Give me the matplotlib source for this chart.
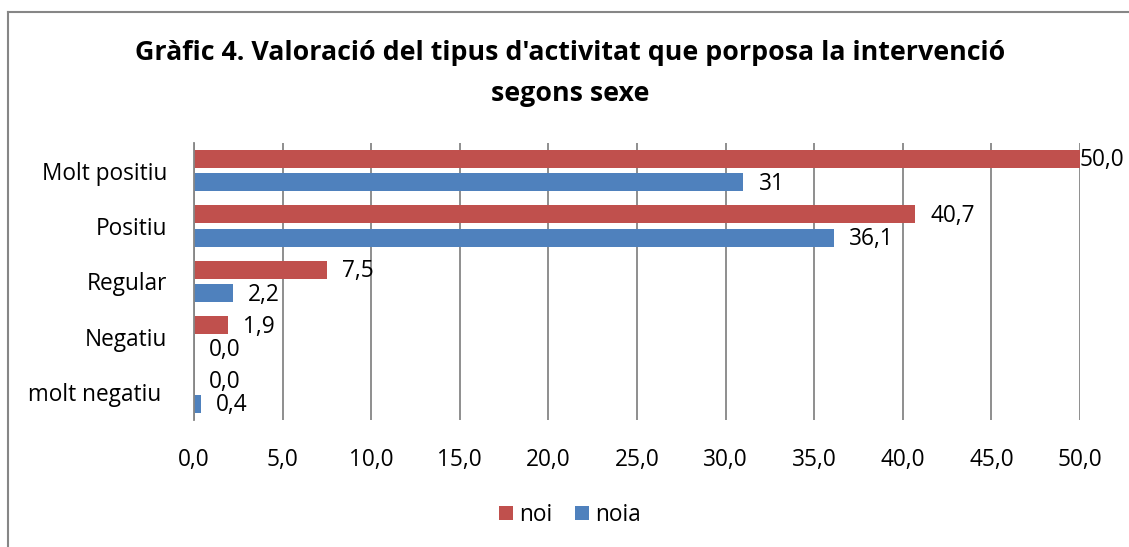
import matplotlib
matplotlib.use("Agg")
import matplotlib.pyplot as plt
import numpy as np
from matplotlib.lines import Line2D

plt.rcParams["font.family"] = ["Open Sans", "DejaVu Sans"]

categories = ["Molt positiu", "Positiu", "Regular", "Negatiu", "molt negatiu "]
noi = [50.0, 40.7, 7.5, 1.9, 0.0]
noia = [31.0, 36.1, 2.2, 0.0, 0.4]
noi_labels = ["50,0", "40,7", "7,5", "1,9", "0,0"]
noia_labels = ["31", "36,1", "2,2", "0,0", "0,4"]
xticks = [0, 5, 10, 15, 20, 25, 30, 35, 40, 45, 50]

RED = "#C0504D"
BLUE = "#4F81BD"
GRID = "#868686"
FS = 16.3

fig = plt.figure(figsize=(11.29, 5.47), dpi=100)
ax = fig.add_axes([0.1718, 0.2322, 0.7848, 0.5064])

y = np.arange(len(categories))
h = 0.325
d = 0.21  # half distance between the two bars of a category
bars_noi = ax.barh(y - d, noi, height=h, color=RED, label="noi")
bars_noia = ax.barh(y + d, noia, height=h, color=BLUE, label="noia")

ax.set_xlim(0, 50)
ax.set_ylim(len(categories) - 0.5, -0.5)
ax.set_xticks(xticks)
ax.set_xticklabels([f"{v:.1f}".replace(".", ",") for v in xticks])
ax.set_yticks(y)
ax.set_yticklabels(categories)
ax.tick_params(axis="both", length=0, labelsize=FS)
ax.tick_params(axis="x", pad=20)
ax.tick_params(axis="y", pad=19)
ax.grid(axis="x", color=GRID, linewidth=1.3)
ax.set_axisbelow(True)
for s in ["top", "right", "bottom"]:
    ax.spines[s].set_visible(False)
ax.spines["left"].set_color(GRID)
ax.spines["left"].set_linewidth(1.3)

for bars, labels in [(bars_noi, noi_labels), (bars_noia, noia_labels)]:
    for b, lab in zip(bars, labels):
        v = b.get_width()
        off = 0 if v >= 50 else 11
        ax.annotate(lab, (v, b.get_y() + b.get_height() / 2),
                    xytext=(off, -1), textcoords="offset points",
                    ha="left", va="center", fontsize=FS)

fig.text(0.505, 0.903, "Gràfic 4. Valoració del tipus d'activitat que porposa la intervenció",
         ha="center", va="center", fontsize=19.3, fontweight="bold")
fig.text(0.505, 0.828, "segons sexe", ha="center", va="center",
         fontsize=19.3, fontweight="bold")

fig.legend(handles=[bars_noi, bars_noia], labels=["noi", "noia"],
           loc="center", bbox_to_anchor=(0.505, 0.058), ncol=2, frameon=False,
           fontsize=FS, handlelength=0.6, handleheight=0.6,
           handletextpad=0.3, columnspacing=1.0)

# outer chart frame (cut at right and bottom)
fig.add_artist(Line2D([8 / 1129, 8 / 1129], [0, 1 - 12 / 547],
                      transform=fig.transFigure, color=GRID, linewidth=1.5))
fig.add_artist(Line2D([8 / 1129, 1], [1 - 12 / 547, 1 - 12 / 547],
                      transform=fig.transFigure, color=GRID, linewidth=1.5))

fig.savefig("out.png", dpi=100)
